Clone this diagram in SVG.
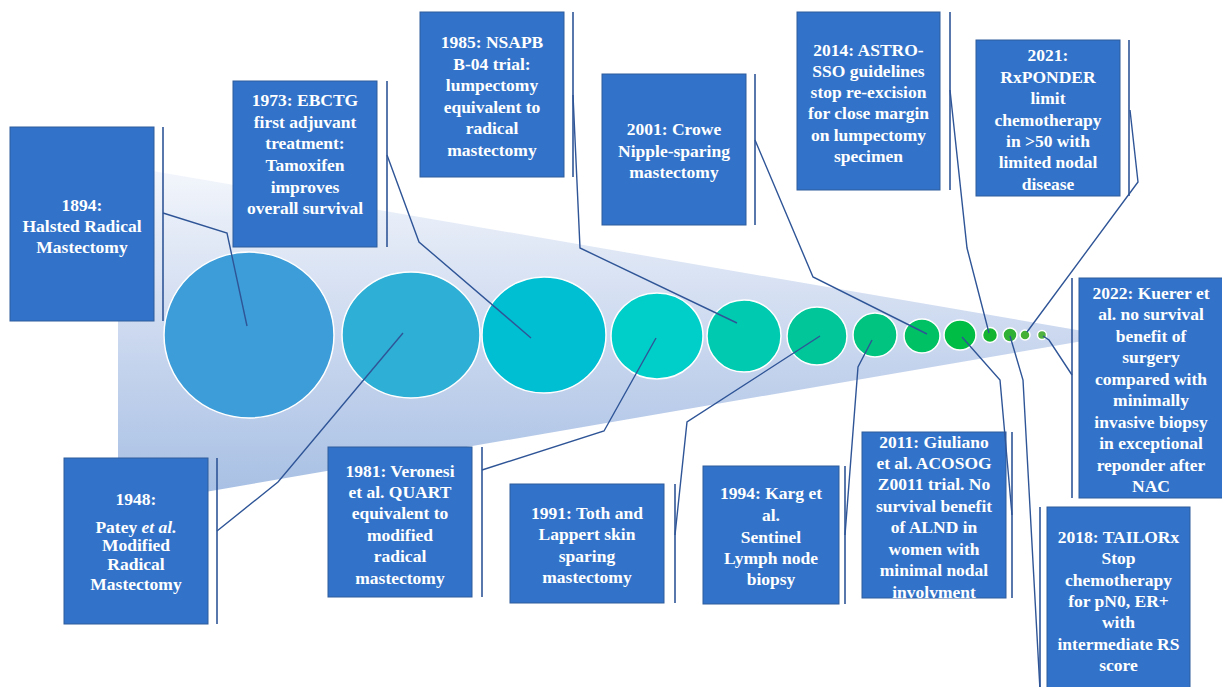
<svg xmlns="http://www.w3.org/2000/svg" width="1222" height="687" viewBox="0 0 1222 687">
<defs>
<linearGradient id="wedgeGrad" gradientUnits="userSpaceOnUse" x1="0" y1="165" x2="0" y2="507">
<stop offset="0" stop-color="#f4f7fc"/>
<stop offset="0.5" stop-color="#cbd8ef"/>
<stop offset="1" stop-color="#a5bee3"/>
</linearGradient>
<style>
.box{fill:#3273c9;stroke:#2f5c9c;stroke-width:1}
.bar{stroke:#2f5597;stroke-width:1.6;fill:none}
.conn{stroke:#2f5597;stroke-width:1.4;fill:none;stroke-linejoin:miter}
.lbl{font-family:'Liberation Serif','Times New Roman',serif;font-weight:bold;font-size:17.5px;fill:#ffffff;text-anchor:middle}
.dot{stroke:#ffffff;stroke-width:1.5}
</style>
</defs>
<rect width="1222" height="687" fill="#ffffff"/>
<polygon points="118,165 1112,336 118,507" fill="url(#wedgeGrad)"/>
<g id="circles">
<ellipse class="dot" cx="249" cy="335" rx="85" ry="83" fill="#3d9dd8"/>
<ellipse class="dot" cx="411" cy="335" rx="69" ry="63" fill="#2eafd5"/>
<ellipse class="dot" cx="544" cy="335" rx="62" ry="58" fill="#00bfd3"/>
<ellipse class="dot" cx="657" cy="336" rx="46" ry="43" fill="#00cfc9"/>
<ellipse class="dot" cx="744" cy="336" rx="37" ry="36" fill="#00cbb0"/>
<ellipse class="dot" cx="817" cy="336" rx="30" ry="29" fill="#00c699"/>
<ellipse class="dot" cx="875" cy="335" rx="22" ry="22" fill="#00c47f"/>
<ellipse class="dot" cx="922" cy="336" rx="18" ry="17" fill="#00c264"/>
<ellipse class="dot" cx="960" cy="335" rx="16" ry="15" fill="#00bd45"/>
<circle class="dot" cx="990" cy="335" r="7.5" fill="#14b330"/>
<circle class="dot" cx="1010" cy="335" r="7" fill="#30b035"/>
<circle class="dot" cx="1025" cy="335" r="5" fill="#45b035"/>
<circle class="dot" cx="1042" cy="335" r="4.5" fill="#50b040"/>
</g>
<g id="node-1894">
<rect class="box" x="10" y="127" width="144" height="194"/>
<line class="bar" x1="163" y1="127" x2="163" y2="321"/>
<text class="lbl"><tspan x="82" y="211">1894:</tspan><tspan x="82" y="232">Halsted Radical</tspan><tspan x="82" y="253">Mastectomy</tspan></text>
</g>
<g id="node-1973">
<rect class="box" x="233" y="81" width="144" height="166"/>
<line class="bar" x1="387" y1="81" x2="387" y2="247"/>
<text class="lbl"><tspan x="305" y="106">1973: EBCTG</tspan><tspan x="305" y="128">first adjuvant</tspan><tspan x="305" y="149">treatment:</tspan><tspan x="305" y="171">Tamoxifen</tspan><tspan x="305" y="193">improves</tspan><tspan x="305" y="214">overall survival</tspan></text>
</g>
<g id="node-1985">
<rect class="box" x="420" y="12" width="144" height="165"/>
<line class="bar" x1="573" y1="12" x2="573" y2="177"/>
<text class="lbl"><tspan x="492" y="48">1985: NSAPB</tspan><tspan x="492" y="70">B-04 trial:</tspan><tspan x="492" y="91">lumpectomy</tspan><tspan x="492" y="113">equivalent to</tspan><tspan x="492" y="134">radical</tspan><tspan x="492" y="156">mastectomy</tspan></text>
</g>
<g id="node-2001">
<rect class="box" x="602" y="74" width="144" height="151"/>
<line class="bar" x1="755" y1="74" x2="755" y2="225"/>
<text class="lbl"><tspan x="674" y="135">2001: Crowe</tspan><tspan x="674" y="157">Nipple-sparing</tspan><tspan x="674" y="178">mastectomy</tspan></text>
</g>
<g id="node-2014">
<rect class="box" x="797" y="12" width="143" height="178"/>
<line class="bar" x1="950" y1="12" x2="950" y2="190"/>
<text class="lbl"><tspan x="868.5" y="56">2014: ASTRO-</tspan><tspan x="868.5" y="77">SSO guidelines</tspan><tspan x="868.5" y="98">stop re-excision</tspan><tspan x="868.5" y="119">for close margin</tspan><tspan x="868.5" y="141">on lumpectomy</tspan><tspan x="868.5" y="162">specimen</tspan></text>
</g>
<g id="node-2021">
<rect class="box" x="976" y="40" width="144" height="156"/>
<line class="bar" x1="1129" y1="40" x2="1129" y2="196"/>
<text class="lbl"><tspan x="1048" y="61">2021:</tspan><tspan x="1048" y="83">RxPONDER</tspan><tspan x="1048" y="104">limit</tspan><tspan x="1048" y="126">chemotherapy</tspan><tspan x="1048" y="147">in &gt;50 with</tspan><tspan x="1048" y="168">limited nodal</tspan><tspan x="1048" y="190">disease</tspan></text>
</g>
<g id="node-2022">
<rect class="box" x="1079" y="278" width="144" height="220"/>
<line class="bar" x1="1072" y1="278" x2="1072" y2="498"/>
<text class="lbl"><tspan x="1151" y="299">2022: Kuerer et</tspan><tspan x="1151" y="320">al. no survival</tspan><tspan x="1151" y="342">benefit of</tspan><tspan x="1151" y="363">surgery</tspan><tspan x="1151" y="385">compared with</tspan><tspan x="1151" y="406">minimally</tspan><tspan x="1151" y="428">invasive biopsy</tspan><tspan x="1151" y="449">in exceptional</tspan><tspan x="1151" y="471">reponder after</tspan><tspan x="1151" y="492">NAC</tspan></text>
</g>
<g id="node-2018">
<rect class="box" x="1047" y="507" width="143" height="190"/>
<line class="bar" x1="1040" y1="507" x2="1040" y2="690"/>
<text class="lbl"><tspan x="1118.5" y="543">2018: TAILORx</tspan><tspan x="1118.5" y="564">Stop</tspan><tspan x="1118.5" y="586">chemotherapy</tspan><tspan x="1118.5" y="607">for pN0, ER+</tspan><tspan x="1118.5" y="628">with</tspan><tspan x="1118.5" y="650">intermediate RS</tspan><tspan x="1118.5" y="671">score</tspan></text>
</g>
<g id="node-1948">
<rect class="box" x="64" y="458" width="144" height="166"/>
<line class="bar" x1="217" y1="458" x2="217" y2="624"/>
<text class="lbl"><tspan x="136" y="505">1948:</tspan><tspan x="136" y="533">Patey <tspan font-style="italic">et al.</tspan></tspan><tspan x="136" y="551">Modified</tspan><tspan x="136" y="570">Radical</tspan><tspan x="136" y="590">Mastectomy</tspan></text>
</g>
<g id="node-1981">
<rect class="box" x="328" y="447" width="144" height="150"/>
<line class="bar" x1="482" y1="447" x2="482" y2="597"/>
<text class="lbl"><tspan x="400" y="477">1981: Veronesi</tspan><tspan x="400" y="498">et al. QUART</tspan><tspan x="400" y="519">equivalent to</tspan><tspan x="400" y="541">modified</tspan><tspan x="400" y="562">radical</tspan><tspan x="400" y="584">mastectomy</tspan></text>
</g>
<g id="node-1991">
<rect class="box" x="510" y="484" width="154" height="119"/>
<line class="bar" x1="675" y1="484" x2="675" y2="603"/>
<text class="lbl"><tspan x="587" y="519">1991: Toth and</tspan><tspan x="587" y="540">Lappert skin</tspan><tspan x="587" y="562">sparing</tspan><tspan x="587" y="583">mastectomy</tspan></text>
</g>
<g id="node-1994">
<rect class="box" x="703" y="466" width="136" height="138"/>
<line class="bar" x1="845" y1="466" x2="845" y2="604"/>
<text class="lbl"><tspan x="771" y="499">1994: Karg et</tspan><tspan x="771" y="521">al.</tspan><tspan x="771" y="543">Sentinel</tspan><tspan x="771" y="564">Lymph node</tspan><tspan x="771" y="585">biopsy</tspan></text>
</g>
<g id="node-2011">
<rect class="box" x="862" y="432" width="144" height="166"/>
<line class="bar" x1="1012" y1="432" x2="1012" y2="598"/>
<text class="lbl"><tspan x="934" y="448">2011: Giuliano</tspan><tspan x="934" y="469">et al. ACOSOG</tspan><tspan x="934" y="490">Z0011 trial. No</tspan><tspan x="934" y="512">survival benefit</tspan><tspan x="934" y="533">of ALND in</tspan><tspan x="934" y="555">women with</tspan><tspan x="934" y="576">minimal nodal</tspan><tspan x="934" y="598">involvment</tspan></text>
</g>
<g id="connectors">
<polyline class="conn" points="163,213 227,233 247,326"/>
<polyline class="conn" points="387,155 419,242 531,338"/>
<polyline class="conn" points="573,95 580,248 737,323"/>
<polyline class="conn" points="755,140 813,277 927,334"/>
<polyline class="conn" points="950,90 967,248 989,333"/>
<polyline class="conn" points="1130,110 1138,182 1027,332"/>
<polyline class="conn" points="1072,375 1049,340 1043,336"/>
<polyline class="conn" points="1040,690 1023,380 1010,336"/>
<polyline class="conn" points="217,531 278,482 403,333"/>
<polyline class="conn" points="482,470 604,431 656,338"/>
<polyline class="conn" points="675,535 687,422 820,336"/>
<polyline class="conn" points="845,535 858,367 872,340"/>
<polyline class="conn" points="1012,515 1000,380 962,337"/>
</g>
</svg>
